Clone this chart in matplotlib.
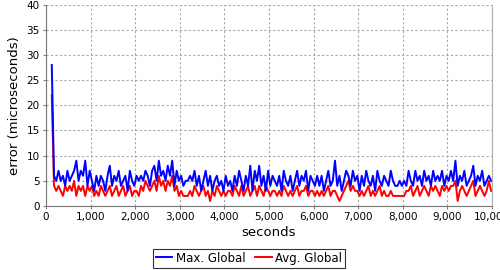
import numpy as np
import matplotlib
import matplotlib.pyplot as plt
from matplotlib.ticker import FuncFormatter, MultipleLocator
matplotlib.use('Agg')

# samples every 50 s, first one at 130 s
start_sec = 130
step_sec = 50

max_global = [
    28, 6, 5, 7, 5, 6, 4, 7, 5, 6, 7, 9, 5, 7, 6, 9, 4, 7, 5, 3,
    6, 4, 6, 5, 3, 6, 8, 4, 6, 5, 7, 4, 5, 6, 3, 7, 5, 4, 6, 5,
    6, 5, 7, 6, 4, 7, 8, 5, 9, 6, 7, 5, 8, 6, 9, 4, 7, 5, 6, 4,
    5, 5, 6, 5, 7, 4, 6, 3, 5, 7, 4, 6, 3, 5, 6, 4, 5, 3, 6, 4,
    5, 3, 6, 4, 7, 5, 3, 6, 4, 8, 3, 7, 5, 8, 4, 6, 3, 7, 4, 6,
    5, 4, 6, 3, 7, 5, 4, 6, 3, 5, 7, 4, 6, 5, 7, 3, 6, 5, 4, 6,
    4, 6, 3, 5, 7, 4, 5, 9, 4, 6, 3, 5, 7, 6, 4, 7, 5, 6, 3, 6,
    4, 7, 5, 4, 6, 3, 7, 5, 4, 6, 5, 4, 7, 5, 4, 4, 5, 4, 5, 4,
    7, 5, 4, 7, 5, 6, 4, 7, 5, 6, 4, 7, 5, 6, 5, 7, 4, 6, 5, 7,
    5, 9, 4, 6, 5, 7, 4, 5, 6, 8, 4, 6, 5, 7, 4, 5, 6, 5,
]

avg_global = [
    22, 4, 3, 4, 3, 2, 4, 3, 4, 3, 5, 2, 4, 3, 4, 2, 4, 3, 4, 2,
    3, 2, 4, 3, 2, 3, 4, 2, 3, 4, 2, 3, 4, 2, 3, 4, 2, 3, 3, 2,
    4, 3, 5, 4, 3, 4, 5, 3, 6, 4, 5, 3, 5, 4, 6, 3, 4, 2, 3, 2,
    2, 2, 3, 2, 4, 3, 2, 3, 4, 2, 3, 1, 3, 2, 4, 3, 2, 3, 2, 3,
    3, 2, 4, 3, 2, 4, 2, 3, 4, 2, 3, 4, 2, 4, 3, 2, 4, 3, 2, 3,
    3, 2, 3, 2, 4, 3, 2, 3, 2, 3, 4, 2, 3, 3, 4, 2, 3, 3, 2, 3,
    2, 3, 2, 3, 4, 2, 3, 3, 2, 1, 2, 3, 4, 5, 3, 4, 3, 3, 2, 3,
    2, 3, 4, 2, 3, 2, 3, 4, 2, 3, 2, 2, 3, 2, 2, 2, 2, 2, 2, 3,
    3, 4, 2, 3, 4, 2, 3, 4, 3, 2, 4, 3, 4, 3, 2, 4, 3, 4, 3, 4,
    4, 5, 1, 3, 4, 3, 2, 3, 4, 5, 2, 3, 4, 3, 2, 3, 5, 3,
]

seconds = start_sec + step_sec * np.arange(len(max_global))

fig = plt.figure(figsize=(5, 2.7), dpi=100)
ax = fig.add_axes([0.092, 0.237, 0.892, 0.746])

l_avg, = ax.plot(seconds, avg_global, color='#ff0000', lw=1.4, label='Avg. Global')
l_max, = ax.plot(seconds, max_global, color='#0000ff', lw=1.4, label='Max. Global')

ax.set_xlim(0, 10000)
ax.set_ylim(0, 40)
ax.xaxis.set_major_locator(MultipleLocator(1000))
ax.yaxis.set_major_locator(MultipleLocator(5))
ax.xaxis.set_major_formatter(FuncFormatter(lambda v, p: f"{int(v):,}"))
ax.tick_params(labelsize=7.5, length=2.5, width=0.8, color='#808080', pad=2)

ax.grid(True, color='#a8a8a8', linestyle=(0, (2, 2)), linewidth=0.8)
ax.set_axisbelow(True)
ax.spines['top'].set_visible(False)
ax.spines['left'].set_color('#777777')
ax.spines['bottom'].set_color('#777777')
ax.spines['right'].set_color('#b0b0b0')

ax.set_xlabel('seconds', fontsize=9.5, labelpad=3)
ax.set_ylabel('error (microseconds)', fontsize=9.5, labelpad=4)

leg = fig.legend(handles=[l_max, l_avg], loc='center', bbox_to_anchor=(0.498, 0.044),
                 ncol=2, fontsize=8.5, frameon=True, fancybox=False,
                 handlelength=1.4, handletextpad=0.3, columnspacing=0.8,
                 borderpad=0.25, borderaxespad=0)
leg.get_frame().set_edgecolor('black')
leg.get_frame().set_linewidth(0.8)

plt.savefig('out.png', dpi=100)
plt.close()
